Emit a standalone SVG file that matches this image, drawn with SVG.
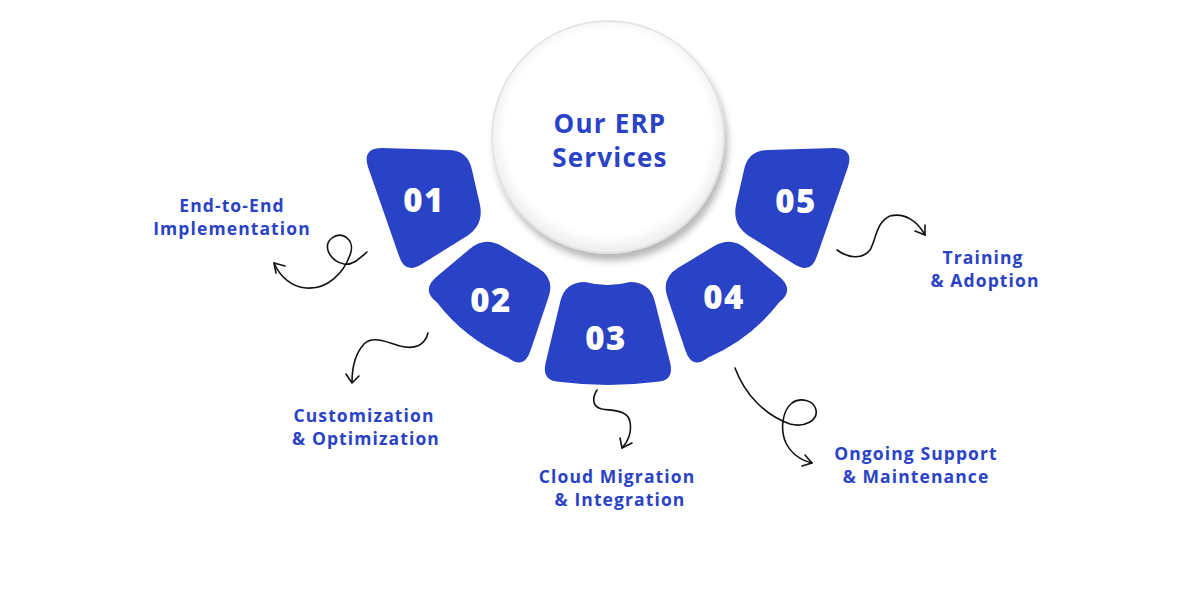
<svg xmlns="http://www.w3.org/2000/svg" width="1200" height="600" viewBox="0 0 1200 600">
  <defs>
    <filter id="shadow" x="-20%" y="-20%" width="140%" height="140%">
      <feDropShadow dx="3" dy="7" stdDeviation="3.5" flood-color="#000" flood-opacity="0.28"/>
    </filter>
    <radialGradient id="disc" cx="50%" cy="48%" r="52%">
      <stop offset="0.85" stop-color="#ffffff"/>
      <stop offset="1" stop-color="#ececec"/>
    </radialGradient>
    <style>
      .seg { fill: #2a43c6; }
      .num { font-family: "Open Sans", "Liberation Sans", sans-serif; font-weight: 800; font-size: 33px; letter-spacing: 1.5px; fill: #ffffff; text-anchor: middle; }
      .title { font-family: "Open Sans", "Liberation Sans", sans-serif; font-weight: 700; font-size: 26px; letter-spacing: 1.2px; fill: #2a43c6; text-anchor: middle; }
      .label { font-family: "Open Sans", "Liberation Sans", sans-serif; font-weight: 700; font-size: 17.5px; letter-spacing: 1.1px; fill: #2a43c6; text-anchor: middle; }
      .arrow { fill: none; stroke: #111111; stroke-width: 1.6; stroke-linecap: round; stroke-linejoin: round; }
    </style>
  </defs>
  <rect width="1200" height="600" fill="#ffffff"/>

  <g id="node-center">
    <circle cx="608" cy="137" r="116" fill="url(#disc)" stroke="#e0e0e0" stroke-width="1.5" filter="url(#shadow)"/>
    <text class="title" x="610" y="133">Our ERP</text>
    <text class="title" x="610" y="167">Services</text>
  </g>

  <g id="node-01">
    <path class="seg" d="M382,148 L448,150 Q468,150 472,170 L480,205 Q484,225 467,236 L422,264 Q405,275 399,256 L368,167 Q362,148 382,148 Z"/>
    <text class="num" x="424" y="212">01</text>
  </g>
  <g id="node-02">
    <path class="seg" d="M502.2,246.3 L537.8,267.7 Q555,278 548.6,296.9 L530.4,351.1 Q524,370 508.2,357.7 Q465,339 436.8,302.3 Q421,290 436.3,277.1 L469.7,248.9 Q485,236 502.2,246.3 Z"/>
    <text class="num" x="491" y="312">02</text>
  </g>
  <g id="node-03">
    <path class="seg" d="M585,282 Q607.5,288 630,282 Q650,282 654.9,301.4 L670.1,362.6 Q675,382 655,382 Q608,388 561,382 Q541,382 545.7,362.6 L560.3,301.4 Q565,282 585,282 Z"/>
    <text class="num" x="606" y="350">03</text>
  </g>
  <g id="node-04">
    <path class="seg" transform="translate(1216,0) scale(-1,1)" d="M502.2,246.3 L537.8,267.7 Q555,278 548.6,296.9 L530.4,351.1 Q524,370 508.2,357.7 Q465,339 436.8,302.3 Q421,290 436.3,277.1 L469.7,248.9 Q485,236 502.2,246.3 Z"/>
    <text class="num" x="724" y="309">04</text>
  </g>
  <g id="node-05">
    <path class="seg" transform="translate(1216,0) scale(-1,1)" d="M382,148 L448,150 Q468,150 472,170 L480,205 Q484,225 467,236 L422,264 Q405,275 399,256 L368,167 Q362,148 382,148 Z"/>
    <text class="num" x="796" y="213">05</text>
  </g>

  <g id="label-01">
    <text class="label" x="232" y="212">End-to-End</text>
    <text class="label" x="232" y="235">Implementation</text>
  </g>
  <g id="label-02">
    <text class="label" x="364" y="422">Customization</text>
    <text class="label" x="366" y="445">&amp; Optimization</text>
  </g>
  <g id="label-03">
    <text class="label" x="617" y="483">Cloud Migration</text>
    <text class="label" x="620" y="506">&amp; Integration</text>
  </g>
  <g id="label-04">
    <text class="label" x="916" y="460">Ongoing Support</text>
    <text class="label" x="916" y="483">&amp; Maintenance</text>
  </g>
  <g id="label-05">
    <text class="label" x="983" y="264">Training</text>
    <text class="label" x="985" y="287">&amp; Adoption</text>
  </g>

  <g id="connectors">
    <path class="arrow" d="M367,252 C360,258 352,266 344,264 C330,261 322,246 332,238 C342,230 356,240 350,255 C344,272 328,290 306,288 C292,287 280,277 274,263"/>
    <path class="arrow" d="M285,266 L274,263 L276,273"/>
    <path class="arrow" d="M428,333 C425,345 415,350 400,346 C385,341 372,336 364,344 C355,354 352,368 352,382"/>
    <path class="arrow" d="M346,374 L352,383 L359,376"/>
    <path class="arrow" d="M597,390 C592,398 592,407 602,409 C615,411 628,410 630,422 C632,432 628,442 622,448"/>
    <path class="arrow" d="M620,438 L622,448 L632,443"/>
    <path class="arrow" d="M735,368 C745,395 765,415 790,424 C805,428 818,420 816,410 C814,400 800,397 792,403 C782,411 780,430 786,443 C791,453 800,460 812,463"/>
    <path class="arrow" d="M805,455 L812,463 L802,466"/>
    <path class="arrow" d="M837,250 C848,258 862,260 870,250 C876,240 876,222 890,216 C905,212 918,222 925,235"/>
    <path class="arrow" d="M915,231 L925,235 L925,225"/>
  </g>
</svg>
